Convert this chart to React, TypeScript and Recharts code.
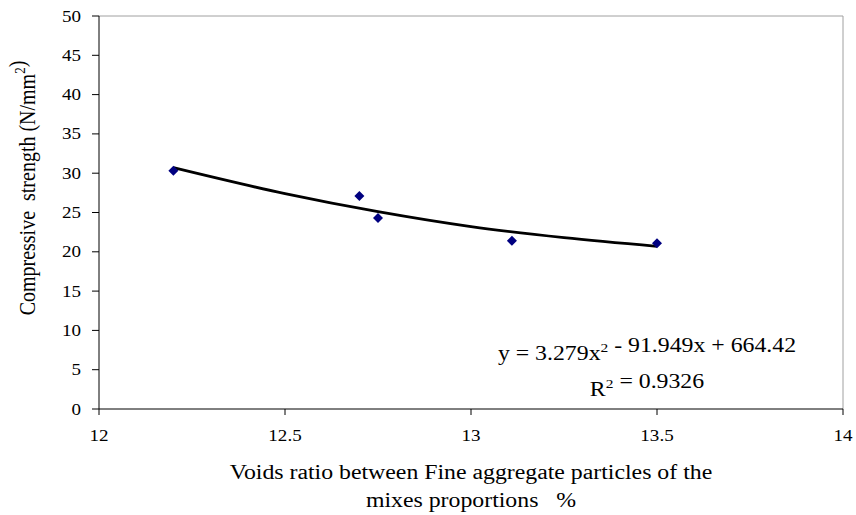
import React from "react";
import { ComposedChart, Scatter, Line, XAxis, YAxis, ReferenceLine } from "recharts";

// measured points
const voidsRatio = [12.2, 12.7, 12.75, 13.11, 13.5];
const strength = [30.3, 27.1, 24.3, 21.4, 21.1];

// polynomial trendline
const trendX = [12.2, 12.5, 12.75, 13.0, 13.25, 13.5];
const trendY = [30.7, 27.4, 25.1, 23.2, 21.8, 20.7];

const xTicks = [12, 12.5, 13, 13.5, 14];
const yTicks = [0, 5, 10, 15, 20, 25, 30, 35, 40, 45, 50];

const points = voidsRatio.map((x, i) => ({ x, y: strength[i] }));
const trend = trendX.map((x, i) => ({ x, y: trendY[i] }));

const FONT = "Liberation Serif, Times New Roman, serif";
const STRETCH = 1.19;

function SText({ x, y, anchor = "middle", size = 20, rotate = false, children }: any) {
  const t = rotate
    ? `translate(${x},${y}) rotate(-90) scale(1,${STRETCH})`
    : `translate(${x},${y}) scale(${STRETCH},1)`;
  return (
    <text transform={t} textAnchor={anchor} fontFamily={FONT} fontSize={size} fill="#000" style={{ whiteSpace: "pre" }}>
      {children}
    </text>
  );
}

const Sup = ({ children }: any) => (
  <>
    <tspan fontSize={13} dy={-8}>{children}</tspan>
    <tspan dy={8}>{""}</tspan>
  </>
);

const XTick = ({ x, y, payload }: any) => (
  <SText x={x} y={y + 24} size={16}>{payload.value}</SText>
);

const YTick = ({ x, y, payload }: any) => (
  <SText x={x} y={y + 5.5} size={16} anchor="end">{payload.value}</SText>
);

const Diamond = ({ cx, cy }: any) => (
  <polygon points={`${cx},${cy - 5} ${cx + 5},${cy} ${cx},${cy + 5} ${cx - 5},${cy}`} fill="#000080" />
);

export default function App() {
  return (
    <div style={{ position: "absolute", left: 0, top: 0, width: 856, height: 515 }}>
      <ComposedChart width={856} height={515} margin={{ top: 16, right: 13, left: 0, bottom: 0 }}>
        <XAxis
          type="number"
          dataKey="x"
          domain={[12, 14]}
          ticks={xTicks}
          height={106}
          tickSize={6}
          axisLine={{ stroke: "#000" }}
          tickLine={{ stroke: "#000" }}
          tick={<XTick />}
          allowDataOverflow
        />
        <YAxis
          type="number"
          domain={[0, 50]}
          ticks={yTicks}
          width={99}
          tickSize={7}
          tickMargin={11}
          axisLine={{ stroke: "#000" }}
          tickLine={{ stroke: "#000" }}
          tick={<YTick />}
          interval={0}
        />
        <ReferenceLine y={50} stroke="#a0a0a0" />
        <ReferenceLine x={14} stroke="#a0a0a0" />
        <Scatter data={points} dataKey="y" shape={<Diamond />} isAnimationActive={false} />
        <Line
          data={trend}
          dataKey="y"
          type="monotone"
          stroke="#000"
          strokeWidth={2.8}
          dot={false}
          activeDot={false}
          isAnimationActive={false}
        />
        <g>
          <SText x={35} y={188} rotate>
            Compressive  strength (N/mm<Sup>2</Sup>)
          </SText>
          <SText x={471} y={479}>Voids ratio between Fine aggregate particles of the</SText>
          <SText x={471} y={507}>mixes proportions   %</SText>
          <SText x={647} y={360}>
            y = 3.279x<Sup>2</Sup> - 91.949x + 664.42
          </SText>
          <SText x={647} y={396}>
            R<Sup>2</Sup> = 0.9326
          </SText>
        </g>
      </ComposedChart>
    </div>
  );
}
